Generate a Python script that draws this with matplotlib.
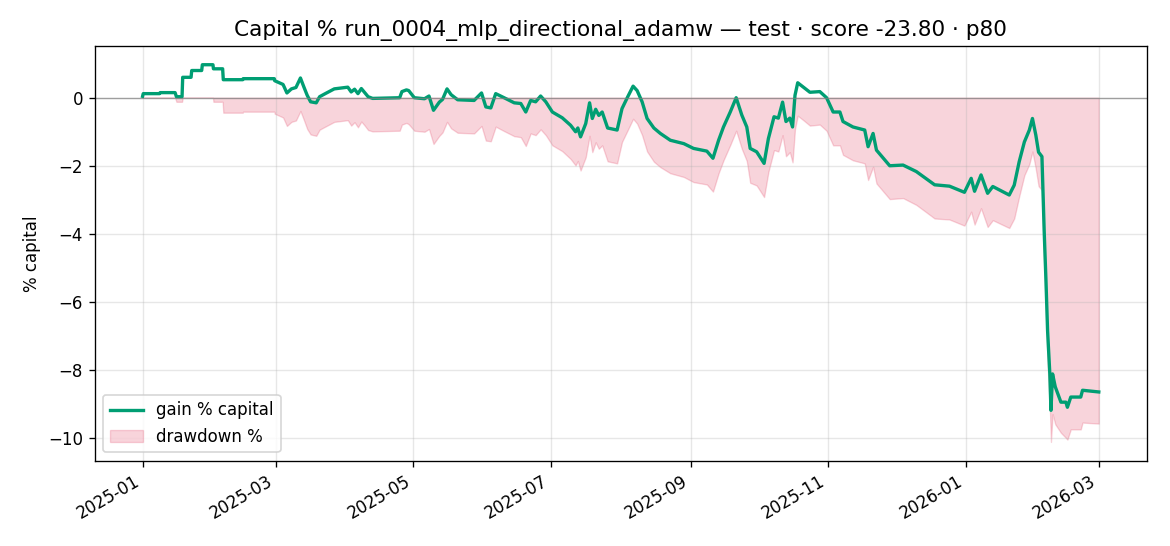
import pandas as pd
import matplotlib
matplotlib.use("Agg")
import matplotlib.pyplot as plt
import matplotlib.dates as mdates

# equity curve
dates = [
    "2025-01-01 00:00", "2025-01-01 07:00", "2025-01-08 12:00", "2025-01-08 19:00",
    "2025-01-15 10:00", "2025-01-16 00:00", "2025-01-18 12:00", "2025-01-18 19:00",
    "2025-01-22 12:00", "2025-01-22 19:00", "2025-01-27 05:00", "2025-01-27 12:00",
    "2025-02-01 05:00", "2025-02-01 10:00", "2025-02-05 12:00", "2025-02-05 19:00",
    "2025-02-14 10:00", "2025-02-14 14:00", "2025-02-28 10:00", "2025-02-28 14:00",
    "2025-03-04 07:00", "2025-03-06 00:00", "2025-03-08 00:00", "2025-03-10 00:00",
    "2025-03-12 00:00", "2025-03-13 12:00", "2025-03-15 00:00", "2025-03-16 12:00",
    "2025-03-19 00:00", "2025-03-20 12:00", "2025-03-23 00:00", "2025-03-27 00:00",
    "2025-04-02 00:00", "2025-04-03 12:00", "2025-04-05 00:00", "2025-04-06 12:00",
    "2025-04-08 00:00", "2025-04-09 12:00", "2025-04-11 00:00", "2025-04-13 00:00",
    "2025-04-25 00:00", "2025-04-26 00:00", "2025-04-28 00:00", "2025-04-29 00:00",
    "2025-05-01 12:00", "2025-05-06 00:00", "2025-05-08 00:00", "2025-05-10 00:00",
    "2025-05-12 14:00", "2025-05-14 00:00", "2025-05-16 00:00", "2025-05-17 19:00",
    "2025-05-20 17:00", "2025-05-28 00:00", "2025-05-31 07:00", "2025-06-02 05:00",
    "2025-06-04 10:00", "2025-06-06 14:00", "2025-06-10 07:00", "2025-06-14 19:00",
    "2025-06-17 17:00", "2025-06-19 22:00", "2025-06-22 02:00", "2025-06-24 07:00",
    "2025-06-26 12:00", "2025-06-28 19:00", "2025-07-01 17:00", "2025-07-06 02:00",
    "2025-07-09 19:00", "2025-07-12 00:00", "2025-07-13 00:00", "2025-07-14 05:00",
    "2025-07-16 12:00", "2025-07-18 05:00", "2025-07-19 10:00", "2025-07-20 22:00",
    "2025-07-22 07:00", "2025-07-23 19:00", "2025-07-26 05:00", "2025-07-30 10:00",
    "2025-08-01 14:00", "2025-08-03 22:00", "2025-08-06 12:00", "2025-08-08 07:00",
    "2025-08-10 12:00", "2025-08-12 17:00", "2025-08-15 17:00", "2025-08-18 14:00",
    "2025-08-23 00:00", "2025-08-29 00:00", "2025-09-02 07:00", "2025-09-08 05:00",
    "2025-09-10 22:00", "2025-09-13 10:00", "2025-09-15 14:00", "2025-09-18 14:00",
    "2025-09-21 05:00", "2025-09-23 17:00", "2025-09-25 22:00", "2025-09-27 10:00",
    "2025-09-30 07:00", "2025-10-03 14:00", "2025-10-05 12:00", "2025-10-08 00:00",
    "2025-10-09 22:00", "2025-10-11 19:00", "2025-10-13 07:00", "2025-10-15 00:00",
    "2025-10-16 05:00", "2025-10-17 07:00", "2025-10-18 12:00", "2025-10-21 00:00",
    "2025-10-23 22:00", "2025-10-28 07:00", "2025-10-31 07:00", "2025-11-03 05:00",
    "2025-11-06 05:00", "2025-11-07 14:00", "2025-11-12 00:00", "2025-11-17 05:00",
    "2025-11-18 17:00", "2025-11-20 22:00", "2025-11-22 10:00", "2025-11-28 07:00",
    "2025-12-04 05:00", "2025-12-10 02:00", "2025-12-18 05:00", "2025-12-24 19:00",
    "2025-12-31 10:00", "2026-01-03 10:00", "2026-01-04 22:00", "2026-01-07 19:00",
    "2026-01-10 17:00", "2026-01-13 00:00", "2026-01-20 07:00", "2026-01-22 12:00",
    "2026-01-24 17:00", "2026-01-27 00:00", "2026-01-29 05:00", "2026-01-30 14:00",
    "2026-02-01 02:00", "2026-02-02 07:00", "2026-02-03 19:00", "2026-02-04 19:00",
    "2026-02-05 14:00", "2026-02-06 07:00", "2026-02-07 07:00", "2026-02-07 19:00",
    "2026-02-08 12:00", "2026-02-09 17:00", "2026-02-12 05:00", "2026-02-14 10:00",
    "2026-02-15 02:00", "2026-02-16 14:00", "2026-02-21 00:00", "2026-02-21 19:00",
    "2026-03-01 00:00",
]

gain_pct = [
    0.04, 0.12, 0.12, 0.15, 0.15, 0.03, 0.03, 0.60, 0.60, 0.80, 0.80, 0.97,
    0.97, 0.85, 0.85, 0.53, 0.53, 0.56, 0.56, 0.50, 0.39, 0.14, 0.26, 0.30,
    0.58, 0.32, 0.07, -0.12, -0.15, 0.03, 0.12, 0.26, 0.31, 0.17, 0.25, 0.12,
    0.27, 0.15, 0.03, -0.02, 0.00, 0.18, 0.23, 0.21, 0.00, -0.03, 0.05, -0.37,
    -0.13, -0.05, 0.26, 0.09, -0.06, -0.08, 0.14, -0.27, -0.30, 0.12, 0.00, -0.15,
    -0.17, -0.42, -0.08, -0.12, 0.05, -0.12, -0.42, -0.59, -0.81, -1.00, -0.89, -1.15,
    -0.76, -0.15, -0.61, -0.34, -0.52, -0.42, -0.89, -0.95, -0.32, 0.00, 0.34, 0.21,
    -0.12, -0.61, -0.89, -1.05, -1.25, -1.35, -1.49, -1.57, -1.78, -1.25, -0.86, -0.42,
    0.00, -0.51, -0.86, -1.49, -1.59, -1.93, -1.20, -0.56, -0.60, -0.13, -0.70, -0.60,
    -0.86, 0.07, 0.44, 0.31, 0.16, 0.18, 0.00, -0.42, -0.42, -0.70, -0.86, -0.95,
    -1.44, -1.05, -1.54, -2.00, -1.98, -2.17, -2.56, -2.60, -2.78, -2.37, -2.75, -2.27,
    -2.81, -2.61, -2.86, -2.57, -1.88, -1.30, -0.95, -0.61, -1.10, -1.60, -1.73, -3.93,
    -5.39, -6.85, -8.12, -9.19, -8.12, -8.50, -8.95, -8.95, -9.10, -8.80, -8.80, -8.60,
    -8.65,
]

drawdown_pct = [
    0.00, 0.00, 0.00, 0.00, 0.00, -0.12, -0.12, 0.00, 0.00, 0.00, 0.00, 0.00,
    0.00, -0.12, -0.12, -0.44, -0.44, -0.41, -0.41, -0.47, -0.58, -0.83, -0.71, -0.67,
    -0.39, -0.65, -0.92, -1.08, -1.12, -0.94, -0.85, -0.71, -0.66, -0.82, -0.72, -0.87,
    -0.70, -0.82, -0.95, -0.99, -0.97, -0.79, -0.74, -0.78, -0.97, -1.00, -0.92, -1.36,
    -1.12, -1.02, -0.71, -0.90, -1.03, -1.05, -0.83, -1.26, -1.28, -0.85, -0.98, -1.13,
    -1.16, -1.42, -1.05, -1.10, -0.93, -1.10, -1.40, -1.57, -1.80, -1.99, -1.86, -2.14,
    -1.75, -1.12, -1.60, -1.31, -1.50, -1.40, -1.87, -1.93, -1.30, -0.98, -0.62, -0.76,
    -1.10, -1.58, -1.88, -2.04, -2.22, -2.33, -2.48, -2.55, -2.76, -2.22, -1.84, -1.39,
    -0.97, -1.50, -1.86, -2.50, -2.58, -2.92, -2.18, -1.54, -1.58, -1.10, -1.72, -1.60,
    -1.90, -0.92, -0.53, -0.66, -0.82, -0.79, -0.97, -1.40, -1.40, -1.68, -1.84, -1.93,
    -2.42, -2.03, -2.52, -2.98, -2.95, -3.15, -3.55, -3.58, -3.76, -3.35, -3.73, -3.25,
    -3.80, -3.60, -3.83, -3.55, -2.90, -2.28, -1.95, -1.58, -2.10, -2.60, -2.72, -4.90,
    -6.36, -7.82, -9.10, -10.12, -9.30, -9.60, -9.85, -10.00, -10.05, -9.75, -9.75, -9.55,
    -9.58,
]

run_name = "run_0004_mlp_directional_adamw"
split = "test"
score = -23.80
tag = "p80"

x = pd.to_datetime(dates)

fig, ax = plt.subplots(figsize=(9.75, 4.55), dpi=120)

ax.plot(x, gain_pct, color="#009E73", linewidth=2, label="gain % capital")
ax.fill_between(x, drawdown_pct, 0, color="crimson", alpha=0.18, linewidth=0.8,
                label="drawdown %")
ax.axhline(0, color="gray", linewidth=0.8, alpha=0.7)

ax.set_title(f"Capital % {run_name} — {split} · score {score:.2f} · {tag}", fontsize=13)
ax.set_ylabel("% capital")
ax.grid(True, alpha=0.3)
ax.legend(loc="lower left")

ax.xaxis.set_major_locator(mdates.MonthLocator(bymonth=[1, 3, 5, 7, 9, 11]))
ax.xaxis.set_major_formatter(mdates.DateFormatter("%Y-%m"))
fig.autofmt_xdate()
fig.subplots_adjust(left=0.081, right=0.98, top=0.916, bottom=0.156)

fig.savefig("out.png")
